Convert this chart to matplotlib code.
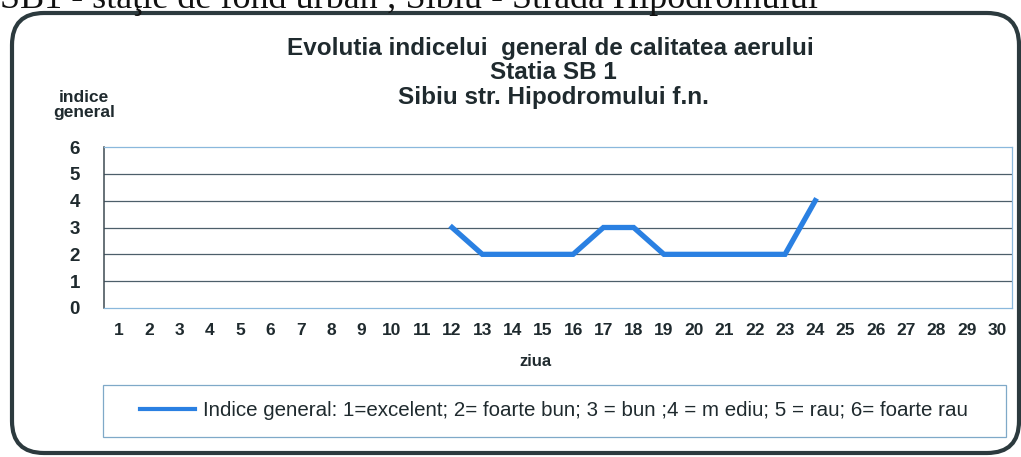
import matplotlib.pyplot as plt
from matplotlib import rcParams
from matplotlib.patches import FancyBboxPatch, Rectangle
from matplotlib.transforms import IdentityTransform
import numpy as np

rcParams['font.family'] = ['Liberation Sans', 'DejaVu Sans']

# data
days = list(range(1, 31))
index_days = [12, 13, 14, 15, 16, 17, 18, 19, 20, 21, 22, 23, 24]
index_vals = [3, 2, 2, 2, 2, 3, 3, 2, 2, 2, 2, 2, 4]
y_ticks = [0, 1, 2, 3, 4, 5, 6]

title_lines = ['Evolutia indicelui  general de calitatea aerului', 'Statia SB 1',
               'Sibiu str. Hipodromului f.n.']
legend_label = 'Indice general: 1=excelent; 2= foarte bun; 3 = bun ;4 = m ediu; 5 = rau; 6= foarte rau'
top_text = 'SB1 - staţie de fond urban ; Sibiu - Strada Hipodromului'

W, H = 1021, 457
txt = '#1f2a2e'
fig = plt.figure(figsize=(W / 100, H / 100), dpi=100)
fig.set_facecolor('white')

# line of the page above the chart, cut by the scan
fig.text(0, 1 - 8 / H, top_text, family='Liberation Serif', fontsize=26,
         color='#111111', ha='left', va='baseline')

# rounded frame of the chart
frame = FancyBboxPatch((12, H - 453), 1007, 440, boxstyle='round,pad=0,rounding_size=32',
                       transform=IdentityTransform(), fill=False, edgecolor='#2c3a3e', linewidth=3)
fig.add_artist(frame)

ax = fig.add_axes([104 / W, 1 - 308 / H, 908 / W, 161 / H])
ax.plot(index_days, index_vals, color='#2a80e2', linewidth=3.8, solid_joinstyle='miter',
        label=legend_label)
ax.set_xlim(0.5, 30.5)
ax.set_ylim(0, 6)
ax.set_xticks(days)
ax.set_yticks(y_ticks)
for v in [1, 2, 3, 4, 5]:
    ax.axhline(v, color='#4d5f6a', linewidth=0.9, zorder=0)
for s in ['top', 'right', 'bottom']:
    ax.spines[s].set_color('#8ab8dc')
    ax.spines[s].set_linewidth(0.9)
ax.spines['left'].set_color('#3d4a52')
ax.spines['left'].set_linewidth(1.1)
ax.tick_params(axis='both', length=0, colors=txt)
ax.tick_params(axis='x', pad=11, labelsize=12.5)
ax.tick_params(axis='y', pad=21, labelsize=13.5)
for lab in ax.get_xticklabels():
    lab.set_fontweight('bold')
for lab in ax.get_yticklabels():
    lab.set_fontweight('bold')
    lab.set_horizontalalignment('center')

# three title lines
for line, xc, yc in zip(title_lines, [550, 553, 553], [46, 70, 95]):
    fig.text(xc / W, 1 - yc / H, line, ha='center', va='center_baseline', fontsize=17.5,
             fontweight='bold', color=txt)
fig.text(84 / W, 1 - 105 / H, 'indice\ngeneral', ha='center', va='center', fontsize=12.5,
         fontweight='bold', color=txt, linespacing=1.05)
fig.text(535 / W, 1 - 361 / H, 'ziua', ha='center', va='center', fontsize=12,
         fontweight='bold', color=txt)

# legend box
fig.add_artist(Rectangle((103 / W, 1 - 437 / H), 903 / W, 52 / H, transform=fig.transFigure,
                         fill=False, edgecolor='#7fa9c8', linewidth=0.9))
leg = fig.legend(loc='center left', bbox_to_anchor=(121 / W, 1 - 411 / H), frameon=False,
                 fontsize=14.8, handlelength=2.7, handletextpad=0.4, labelcolor=txt)
leg.legend_handles[0].set_linewidth(3)

fig.savefig('out.png', dpi=100)
